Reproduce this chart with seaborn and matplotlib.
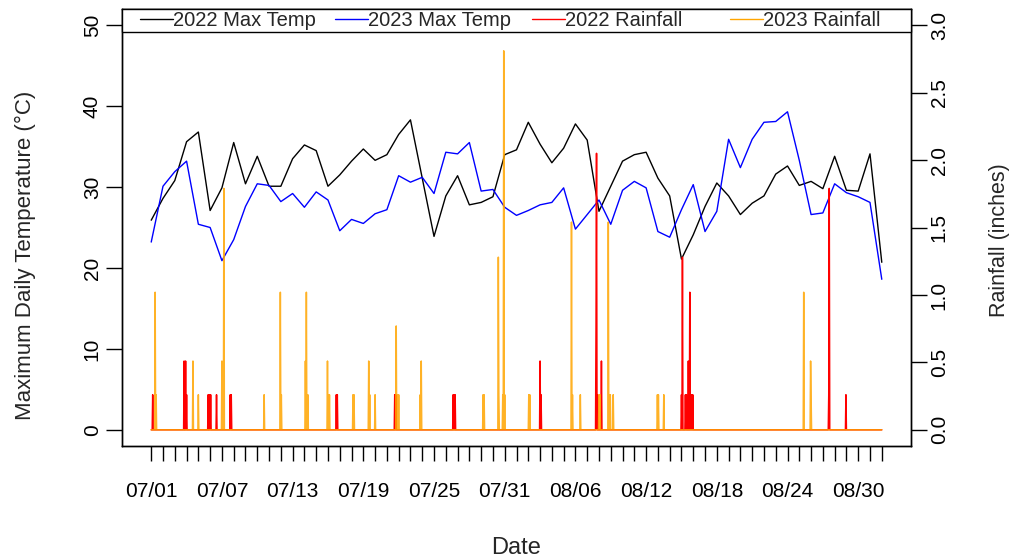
import numpy as np
import pandas as pd
import matplotlib
matplotlib.use("Agg")
import matplotlib.pyplot as plt
import matplotlib.patches as mpatches
from matplotlib.legend import Legend
from matplotlib.lines import Line2D
import seaborn as sns

# ---- data -------------------------------------------------------------
day_labels = pd.date_range("2023-07-01", "2023-09-01", freq="D").strftime("%m/%d").tolist()

max_temp_2022 = [25.9, 28.6, 30.8, 35.6, 36.8, 27.1, 29.9, 35.5, 30.4, 33.8,
                 30.1, 30.1, 33.5, 35.2, 34.5, 30.1, 31.5, 33.2, 34.7, 33.3,
                 34.0, 36.5, 38.3, 31.1, 23.9, 28.9, 31.4, 27.8, 28.1, 28.8,
                 34.0, 34.6, 38.0, 35.3, 33.0, 34.8, 37.8, 35.8, 27.0, 30.1,
                 33.2, 34.0, 34.3, 31.1, 28.9, 21.1, 24.1, 27.6, 30.5, 28.9,
                 26.6, 28.0, 28.9, 31.6, 32.6, 30.2, 30.7, 29.8, 33.8, 29.6,
                 29.5, 34.1, 20.7]

max_temp_2023 = [23.2, 30.1, 31.9, 33.2, 25.4, 25.0, 20.9, 23.5, 27.6, 30.4,
                 30.2, 28.2, 29.2, 27.5, 29.4, 28.4, 24.6, 26.0, 25.5, 26.7,
                 27.2, 31.4, 30.6, 31.2, 29.2, 34.3, 34.1, 35.5, 29.5, 29.7,
                 27.5, 26.5, 27.1, 27.8, 28.1, 29.9, 24.8, 26.6, 28.4, 25.4,
                 29.6, 30.7, 29.9, 24.5, 23.8, 27.2, 30.3, 24.5, 27.0, 35.9,
                 32.4, 35.9, 38.0, 38.1, 39.3, 33.3, 26.6, 26.8, 30.4, 29.3,
                 28.8, 28.1, 18.6]

# rainfall readings: time in days after 07/01 00:00, depth in inches
rain_2022_day = [0.14, 2.80, 2.90, 3.00, 4.85, 4.95, 5.05, 5.53, 6.70, 6.80,
                 15.72, 15.80, 20.68, 20.75, 25.62, 25.70, 25.78, 33.00, 33.08,
                 37.74, 37.80, 37.86, 38.20, 45.00, 45.10, 45.35, 45.40, 45.60,
                 45.70, 45.78, 45.86, 45.94, 57.50, 57.56, 58.95]
rain_2022_in = [0.26, 0.51, 0.51, 0.26, 0.26, 0.26, 0.26, 0.26, 0.26, 0.26,
                0.26, 0.26, 0.26, 0.26, 0.26, 0.26, 0.26, 0.51, 0.26,
                0.77, 2.05, 0.26, 0.51, 0.26, 1.28, 0.26, 0.26, 0.51,
                1.02, 0.26, 0.26, 0.26, 0.26, 1.79, 0.26]

rain_2023_day = [0.34, 0.42, 3.56, 4.00, 6.00, 6.15, 9.60, 10.95, 11.05, 13.10,
                 13.18, 13.28, 14.96, 15.05, 15.12, 17.12, 17.20, 18.46, 18.54,
                 19.00, 20.80, 20.90, 20.98, 22.85, 22.92, 28.15, 28.25, 29.45,
                 29.52, 29.85, 29.92, 30.00, 32.05, 32.12, 35.66, 35.74, 36.40,
                 38.00, 38.08, 38.80, 38.88, 38.96, 39.20, 42.95, 43.05, 43.50,
                 55.36, 55.95, 56.02]
rain_2023_in = [1.02, 0.26, 0.51, 0.26, 0.51, 1.79, 0.26, 1.02, 0.26, 0.51,
                1.02, 0.26, 0.51, 0.26, 0.26, 0.26, 0.26, 0.51, 0.26,
                0.26, 0.77, 0.26, 0.26, 0.26, 0.51, 0.26, 0.26, 1.28,
                0.26, 0.26, 2.81, 0.26, 0.26, 0.26, 1.54, 0.26, 0.26,
                0.26, 0.26, 1.54, 0.26, 0.26, 0.26, 0.26, 0.26, 0.26,
                1.02, 0.51, 0.26]

series_names = ["2022 Max Temp", "2023 Max Temp", "2022 Rainfall", "2023 Rainfall"]
series_colors = ["black", "#0000FF", "#FF0000", "#FFA500"]

# ---- tables -----------------------------------------------------------
n_days = len(day_labels)
temps = pd.DataFrame({"day": np.arange(n_days),
                      "t2022": max_temp_2022,
                      "t2023": max_temp_2023})

STEPS_PER_DAY = 24


def hourly_rain(days, depths):
    """Hourly rain record (zero where no reading) over the study period."""
    t = np.arange((n_days - 1) * STEPS_PER_DAY + 1) / STEPS_PER_DAY
    v = np.zeros_like(t)
    for d, a in zip(days, depths):
        k = int(round(d * STEPS_PER_DAY))
        v[k] = max(v[k], a)
    return pd.DataFrame({"day": t, "rain": v})


rain22 = hourly_rain(rain_2022_day, rain_2022_in)
rain23 = hourly_rain(rain_2023_day, rain_2023_in)

# ---- style ------------------------------------------------------------
sns.set_style("ticks")
plt.rcParams["font.family"] = ["Liberation Sans", "DejaVu Sans"]
plt.rcParams["axes.edgecolor"] = "black"
plt.rcParams["axes.linewidth"] = 1.0

W, H = 1018, 560
fig = plt.figure(figsize=(W / 100, H / 100), dpi=100)
box_l, box_r, box_t, box_b = 122, 911, 9, 446
ax = fig.add_axes([box_l / W, 1 - box_b / H, (box_r - box_l) / W, (box_b - box_t) / H])

# temperature lines
sns.lineplot(data=temps, x="day", y="t2022", ax=ax, color=series_colors[0],
             lw=1.0, estimator=None, sort=False)
sns.lineplot(data=temps, x="day", y="t2023", ax=ax, color=series_colors[1],
             lw=1.0, estimator=None, sort=False)

pad_x = 0.04 * (n_days - 1)
ax.set_xlim(-pad_x, n_days - 1 + pad_x)
ax.set_ylim(-2, 52)
ax.set_yticks(range(0, 51, 10))

# rainfall on the secondary axis
ax2 = ax.twinx()
sns.lineplot(data=rain22, x="day", y="rain", ax=ax2, color=series_colors[2],
             lw=1.1, estimator=None, sort=False)
sns.lineplot(data=rain23, x="day", y="rain", ax=ax2, color=series_colors[3],
             lw=1.1, alpha=0.85, estimator=None, sort=False)
ax2.set_ylim(-0.12, 3.12)
ax2.set_yticks(np.arange(0, 3.01, 0.5))
ax2.set_yticklabels([f"{v:.1f}" for v in np.arange(0, 3.01, 0.5)])

# x ticks: every day, label every sixth
ax.set_xticks(range(n_days))
ax.set_xticklabels([lab if i % 6 == 0 else "" for i, lab in enumerate(day_labels)])
ax.tick_params(axis="x", length=11, width=1, pad=15, labelsize=15, colors="black")
ax.tick_params(axis="y", length=11.5, width=1, pad=3, labelsize=15,
               labelrotation=90, colors="black")
ax2.tick_params(axis="y", length=11.5, width=1, pad=2, labelsize=15,
                labelrotation=90, colors="black")
for lab in ax.get_yticklabels() + ax2.get_yticklabels():
    lab.set_va("center")

for a in (ax, ax2):
    for sp in a.spines.values():
        sp.set_visible(True)
        sp.set_color("black")
        sp.set_linewidth(1.0)

# axis titles
pw, ph = box_r - box_l, box_b - box_t
ax.set_xlabel("Date", fontsize=17)
ax.xaxis.set_label_coords(0.5, (box_b - 548) / ph)
ax.xaxis.label.set_va("center")
ax.set_ylabel("Maximum Daily Temperature (°C)", fontsize=16)
ax.yaxis.set_label_coords((25 - box_l) / pw, (box_b - 255) / ph)
ax.yaxis.label.set_va("center")
ax2.set_ylabel("Rainfall (inches)", fontsize=15.5, rotation=90)
ax2.yaxis.set_label_coords((1000 - box_l) / pw, (box_b - 240) / ph)
ax2.yaxis.label.set_va("center")

# legend strip across the top of the plot box
leg_h = 23 / ph
ax2.add_patch(mpatches.Rectangle((0, 1 - leg_h), 1, leg_h, transform=ax2.transAxes,
                                 facecolor="white", edgecolor="black", lw=1.0,
                                 zorder=4, clip_on=False))
col_x = [(140 - box_l) / pw, (335 - box_l) / pw, (532 - box_l) / pw, (730 - box_l) / pw]
for x0, name, col in zip(col_x, series_names, series_colors):
    leg = Legend(ax2, [Line2D([], [], color=col, lw=1.0)], [name],
                 loc="center left", bbox_to_anchor=(x0, 1 - leg_h / 2),
                 bbox_transform=ax2.transAxes,
                 frameon=False, handlelength=1.65, handletextpad=0.0,
                 borderpad=0.0, borderaxespad=0.0, fontsize=14.5)
    leg.set_zorder(6)
    ax2.add_artist(leg)

fig.savefig("out.png", dpi=100)
